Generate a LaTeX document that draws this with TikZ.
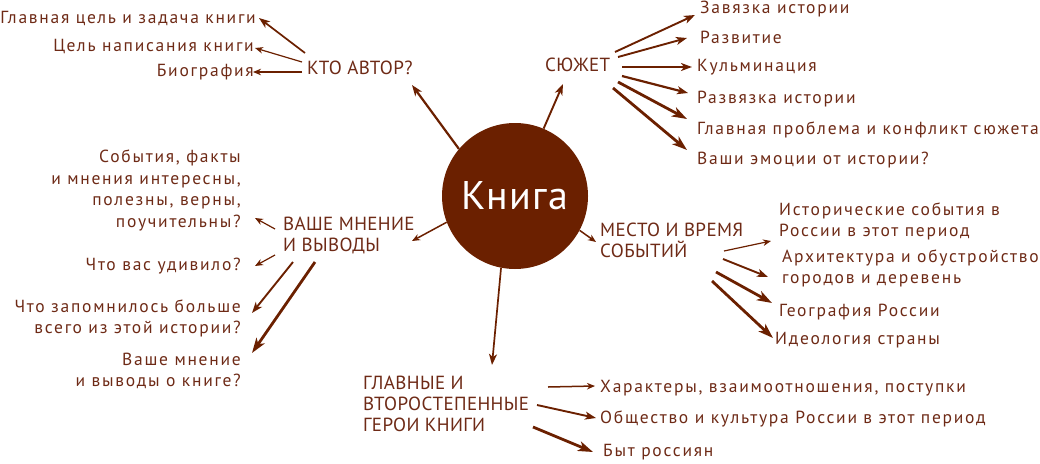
\documentclass[tikz,border=0pt]{standalone}
\usepackage{fontspec}
\setmainfont{PT Sans}
\newfontfamily\itemf[LetterSpace=10]{PT Sans}
\newfontfamily\catf[LetterSpace=2]{PT Sans}
\newfontfamily\bookf[LetterSpace=3]{PT Sans}
\usetikzlibrary{arrows.meta}
\definecolor{bookbrown}{RGB}{107,32,0}
\definecolor{txtbrown}{RGB}{110,42,22}
\tikzset{
  item/.style={font=\itemf\fontsize{17.5}{21.5}\selectfont, text=txtbrown, inner sep=0pt},
  cat/.style={font=\catf\fontsize{19}{21}\selectfont, text=txtbrown, inner sep=0pt, align=left},
  arrA/.style={draw=bookbrown, line width=1.2pt, -{Stealth[length=8pt,width=6.5pt,inset=2.5pt]}},
  arrB/.style={draw=bookbrown, line width=1.9pt, -{Stealth[length=11pt,width=8pt,inset=3pt]}},
  arrC/.style={draw=bookbrown, line width=2.8pt, -{Stealth[length=15pt,width=10pt,inset=4pt]}},
}
\begin{document}
\begin{tikzpicture}[x=1pt,y=-1pt]
\useasboundingbox (0,0) rectangle (1040,463);
% central node
\node[circle, fill=bookbrown, minimum size=146pt, inner sep=0pt,
      font=\bookf\fontsize{40}{44}\selectfont, text=white] (book) at (515,196) {Книга};
% categories
\node[cat, anchor=west] (author) at (307,68) {КТО АВТОР?};
\node[cat, anchor=west] (plot) at (545,65) {СЮЖЕТ};
\node[cat, anchor=west] (opinion) at (283,235.5) {ВАШЕ МНЕНИЕ\\И ВЫВОДЫ};
\node[cat, anchor=west] (place) at (600,240.5) {МЕСТО И ВРЕМЯ\\СОБЫТИЙ};
\node[cat, anchor=west] (heroes) at (363,404) {ГЛАВНЫЕ И\\ВТОРОСТЕПЕННЫЕ\\ГЕРОИ КНИГИ};
% author items
\node[item, anchor=east] (a1) at (256,18) {Главная цель и задача книги};
\node[item, anchor=east] (a2) at (254,47) {Цель написания книги};
\node[item, anchor=east] (a3) at (254,72) {Биография};
% plot items
\node[item, anchor=west] (s1) at (700,9) {Завязка истории};
\node[item, anchor=west] (s2) at (700,37) {Развитие};
\node[item, anchor=west] (s3) at (697,67) {Кульминация};
\node[item, anchor=west] (s4) at (697,99) {Развязка истории};
\node[item, anchor=west] (s5) at (697,130) {Главная проблема и конфликт сюжета};
\node[item, anchor=west] (s6) at (697,160) {Ваши эмоции от истории?};
% opinion items
\node[item, anchor=east, align=right] (o1) at (241,190.5) {События, факты\\и мнения интересны,\\полезны, верны,\\поучительны?};
\node[item, anchor=east] (o2) at (241,266) {Что вас удивило?};
\node[item, anchor=east, align=right] (o3) at (241,318.5) {Что запомнилось больше\\всего из этой истории?};
\node[item, anchor=east, align=right] (o4) at (241,371) {Ваше мнение\\и выводы о книге?};
% place items
\node[item, anchor=west, align=left] (p1) at (779,221.5) {Исторические события в\\России в этот период};
\node[item, anchor=west, align=left] (p2) at (782,268.5) {Архитектура и обустройство\\городов и деревень};
\node[item, anchor=west] (p3) at (779,312) {География России};
\node[item, anchor=west] (p4) at (775,340) {Идеология страны};
% heroes items
\node[item, anchor=west] (h1) at (600,388) {Характеры, взаимоотношения, поступки};
\node[item, anchor=west] (h2) at (600,419) {Общество и культура России в этот период};
\node[item, anchor=west] (h3) at (603,452) {Быт россиян};
% arrow end coordinates
\coordinate (ta) at (412,85);
\coordinate (tp) at (563,84);
\coordinate (to) at (412,241);
\coordinate (tl) at (596,242);
\coordinate (th) at (492,365);
% circle arrows
\draw[arrB, line width=2.2pt] (book.140) -- (ta);
\draw[arrB] (book.67.6) -- (tp);
\draw[arrA, line width=1.5pt] (book.201.7) -- (to);
\draw[arrA, line width=1.5pt] (book.332.4) -- (tl);
\draw[arrB, line width=1.7pt] (book.259) -- (th);
% author arrows
\coordinate (aa1) at (305,53); \coordinate (aa2) at (302,62); \coordinate (aa3) at (302,72);
\coordinate (ae1) at (259,18); \coordinate (ae2) at (255,48); \coordinate (ae3) at (253,72);
\draw[arrB, line width=1.7pt] (aa1) -- (ae1);
\draw[arrA] (aa2) -- (ae2);
\draw[arrA] (aa3) -- (ae3);
% plot arrows
\coordinate (sa1) at (615,52); \coordinate (se1) at (695,15);
\coordinate (sa2) at (618,57); \coordinate (se2) at (687,38);
\coordinate (sa3) at (622,67); \coordinate (se3) at (692,67);
\coordinate (sa4) at (622,76); \coordinate (se4) at (688,93);
\coordinate (sa5) at (618,82); \coordinate (se5) at (687,119);
\coordinate (sa6) at (613,88); \coordinate (se6) at (687,150);
\draw[arrB] (sa1) -- (se1);
\draw[arrB] (sa2) -- (se2);
\draw[arrB] (sa3) -- (se3);
\draw[arrB, line width=2.2pt] (sa4) -- (se4);
\draw[arrC] (sa5) -- (se5);
\draw[arrC] (sa6) -- (se6);
% opinion arrows
\coordinate (oa1) at (275,229); \coordinate (oe1) at (255,218);
\coordinate (oa2) at (275,255); \coordinate (oe2) at (255,266);
\coordinate (oa3) at (293,262); \coordinate (oe3) at (252,313);
\coordinate (oa4) at (315,262); \coordinate (oe4) at (252,353);
\draw[arrA] (oa1) -- (oe1);
\draw[arrA] (oa2) -- (oe2);
\draw[arrB] (oa3) -- (oe3);
\draw[arrC] (oa4) -- (oe4);
% place arrows
\coordinate (pa1) at (724,251); \coordinate (pe1) at (771,241);
\coordinate (pa2) at (723,259); \coordinate (pe2) at (768,277);
\coordinate (pa3) at (716,272); \coordinate (pe3) at (772,303);
\coordinate (pa4) at (712,281); \coordinate (pe4) at (773,338);
\draw[arrA] (pa1) -- (pe1);
\draw[arrB] (pa2) -- (pe2);
\draw[arrC] (pa3) -- (pe3);
\draw[arrC] (pa4) -- (pe4);
% heroes arrows
\coordinate (ha1) at (548,387); \coordinate (he1) at (595,386);
\coordinate (ha2) at (537,405); \coordinate (he2) at (596,418);
\coordinate (ha3) at (533,427); \coordinate (he3) at (593,452);
\draw[arrA, line width=1.5pt] (ha1) -- (he1);
\draw[arrB] (ha2) -- (he2);
\draw[arrC] (ha3) -- (he3);
\end{tikzpicture}
\end{document}
